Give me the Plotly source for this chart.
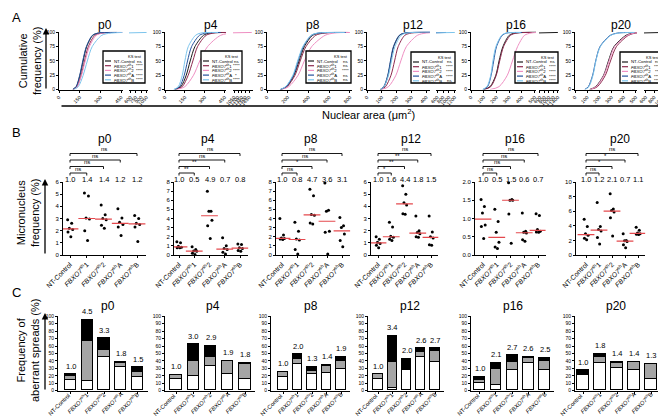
import numpy as np
import plotly.graph_objects as go

W, H = 666, 416
FONT = "Liberation Sans, Arial, sans-serif"

passages = ["p0", "p4", "p8", "p12", "p16", "p20"]
groups = ["NT-Control", "FBXO7sh1", "FBXO7sh2", "FBXO7shA", "FBXO7shB"]
group_ticks = ["NT-Control", "<i>FBXO7</i><sup>sh</sup>1", "<i>FBXO7</i><sup>sh</sup>2",
               "<i>FBXO7</i><sup>sh</sup>A", "<i>FBXO7</i><sup>sh</sup>B"]
group_colors = ["#1a1a1a", "#8e2a4e", "#ee8fc2", "#24519b", "#7cc4ec"]

# ---- A: nuclear area (um2) read at cumulative percent levels
cum_pct = [0, 5, 25, 50, 75, 95, 99, 100]
area_p0 = [[100, 125, 152, 175, 200, 245, 290, 420],
           [105, 130, 160, 185, 212, 260, 310, 450],
           [105, 132, 163, 190, 220, 270, 320, 460],
           [100, 124, 150, 172, 198, 242, 285, 420],
           [110, 140, 175, 205, 240, 310, 380, 1050]]
area_p4 = [[75, 120, 160, 190, 225, 290, 340, 450],
           [80, 130, 175, 210, 245, 310, 370, 460],
           [90, 150, 215, 262, 320, 420, 520, 1750],
           [70, 110, 145, 170, 200, 260, 310, 420],
           [65, 100, 130, 150, 175, 230, 270, 400]]
area_p8 = [[130, 190, 260, 310, 360, 440, 520, 780],
           [135, 195, 270, 320, 375, 470, 560, 790],
           [140, 210, 300, 360, 430, 560, 650, 800],
           [130, 185, 255, 300, 350, 430, 500, 760],
           [125, 180, 250, 295, 345, 425, 490, 750]]
area_p12 = [[90, 115, 142, 160, 180, 220, 260, 420],
            [95, 125, 162, 186, 210, 255, 300, 440],
            [100, 145, 195, 228, 265, 340, 400, 600],
            [90, 113, 140, 158, 178, 218, 255, 900],
            [90, 115, 145, 165, 188, 230, 270, 1200]]
area_p16 = [[100, 150, 195, 220, 250, 300, 350, 1400],
            [105, 155, 198, 225, 255, 310, 360, 480],
            [150, 220, 285, 325, 365, 420, 470, 520],
            [95, 130, 158, 178, 200, 245, 280, 400],
            [90, 125, 155, 172, 195, 240, 275, 390]]
area_p20 = [[120, 170, 235, 275, 320, 420, 480, 1000],
            [130, 185, 250, 292, 340, 440, 500, 560],
            [125, 175, 238, 280, 325, 430, 490, 540],
            [80, 110, 145, 170, 205, 290, 350, 480],
            [85, 115, 148, 172, 208, 295, 360, 490]]
area_data = [area_p0, area_p4, area_p8, area_p12, area_p16, area_p20]
area_ticks = [[0, 150, 300, 450], [0, 150, 300, 450], [0, 200, 400, 600, 800],
              [0, 100, 200, 300, 400], [0, 100, 200, 300, 400, 500], [0, 100, 200, 300, 400, 500]]
break_ticks = [[600, 750, 900, 1050], [1050, 1200, 1350, 1500, 1650], None,
               [600, 800, 1000, 1200], [600, 800, 1000, 1200, 1400], [600, 800, 1000]]
ks_test = [["ns", "****", "****", "****", "****"],
           ["ns", "****", "****", "*", "****"],
           ["ns", "ns", "****", "ns", "ns"],
           ["ns", "****", "****", "****", "ns"],
           ["ns", "****", "****", "****", "****"],
           ["ns", "****", "***", "****", "****"]]

# ---- B: micronucleus frequency (%), one list per group
mn_p0 = [[2.9, 2.6, 2.2, 2.1, 1.9, 1.5], [5.1, 4.85, 3.05, 2.95, 2.0, 1.2],
         [4.1, 3.3, 3.0, 2.9, 2.45, 2.2], [3.8, 3.05, 2.7, 2.5, 2.3, 1.6],
         [3.25, 3.0, 2.6, 2.5, 2.3, 1.1]]
mn_p4 = [[1.45, 1.35, 0.95, 0.85, 0.8, 0.8], [0.9, 0.6, 0.45, 0.4, 0.2, 0.05],
         [7.0, 4.8, 4.8, 3.8, 3.2, 1.8], [1.9, 1.0, 0.7, 0.6, 0.3, 0.1],
         [1.2, 1.15, 0.8, 0.7, 0.5, 0.4]]
mn_p8 = [[4.0, 2.2, 1.85, 1.8, 1.75, 1.7], [3.6, 2.6, 1.75, 1.65, 0.6, 0.1],
         [7.2, 6.5, 4.45, 4.35, 3.5, 3.4], [7.9, 4.9, 4.8, 2.6, 2.5, 0.1],
         [4.1, 3.2, 3.0, 2.3, 1.6, 0.9]]
mn_p12 = [[1.5, 1.3, 1.05, 0.95, 0.8, 0.6], [2.7, 2.3, 1.55, 1.45, 1.3, 1.2],
          [5.7, 5.0, 4.3, 4.1, 3.4, 3.35], [3.2, 2.0, 1.85, 1.75, 1.5, 1.45],
          [3.2, 1.9, 1.5, 1.4, 0.85, 0.8]]
mn_p16 = [[1.52, 1.33, 1.15, 0.82, 0.78, 0.45], [1.25, 0.92, 0.62, 0.35, 0.22, 0.18],
          [1.98, 1.52, 1.5, 1.5, 1.12, 0.32], [1.15, 0.65, 0.62, 0.6, 0.42, 0.38],
          [1.13, 1.08, 0.7, 0.65, 0.63, 0.62]]
mn_p20 = [[4.9, 3.9, 2.9, 2.7, 2.3, 2.1], [7.2, 3.9, 3.5, 3.3, 2.4, 1.5],
          [8.4, 6.3, 6.1, 5.9, 5.1, 2.6], [2.9, 2.0, 1.95, 1.85, 1.4, 1.0],
          [3.8, 3.4, 3.0, 2.9, 2.85, 2.8]]
mn_data = [mn_p0, mn_p4, mn_p8, mn_p12, mn_p16, mn_p20]
mn_fold = [["1.0", "1.4", "1.4", "1.2", "1.2"], ["1.0", "0.5", "4.9", "0.7", "0.8"],
           ["1.0", "0.8", "4.7", "3.6", "3.1"], ["1.0", "1.6", "4.4", "1.8", "1.5"],
           ["1.0", "0.5", "1.5", "0.6", "0.7"], ["1.0", "1.2", "2.1", "0.7", "1.1"]]
# significance of NT-Control vs FBXO7sh1, sh2, shA, shB
mn_sig = [["ns", "ns", "ns", "ns"], ["**", "**", "ns", "ns"], ["ns", "*", "ns", "ns"],
          ["*", "**", "**", "ns"], ["ns", "ns", "ns", "ns"], ["ns", "*", "*", "ns"]]
mn_ymax = [6, 8, 8, 6, 2.0, 10]
mn_dtick = [1, 1, 1, 1, 0.5, 2]

# ---- C: aberrant spreads (%), stacked white / grey / black
ab_white = [[13.5, 12, 45, 32, 18.5], [15, 20, 32.5, 21.5, 15.5], [18, 35, 21.5, 24, 29],
            [16, 3.5, 27, 45, 38.5], [10, 7.5, 27, 37, 27], [20.5, 37, 30, 27.5, 16]]
ab_grey = [[5.5, 54, 9, 5, 6.5], [6, 19.5, 12.5, 18, 19.5], [6.5, 7, 4.5, 9, 10.5],
           [5.5, 34.5, 0, 6.5, 14.5], [3.5, 21.5, 11.5, 7, 12.5], [0, 8, 7, 10.5, 19]]
ab_black = [[2.5, 29, 16, 1.5, 6], [0, 22.5, 15, 0.5, 2], [0, 6.5, 6, 1, 6],
            [0, 35, 15.5, 5, 3.5], [4.5, 8, 8.5, 1, 4.5], [6.5, 4, 1, 0, 1]]
ab_fold = [["1.0", "4.5", "3.3", "1.8", "1.5"], ["1.0", "3.0", "2.9", "1.9", "1.8"],
           ["1.0", "2.0", "1.3", "1.4", "1.9"], ["1.0", "3.4", "2.0", "2.6", "2.7"],
           ["1.0", "2.1", "2.7", "2.6", "2.5"], ["1.0", "1.8", "1.4", "1.4", "1.3"]]


def px(v):
    return v / W


def py(v):
    return 1 - v / H


base_axis = dict(showline=True, linecolor="black", linewidth=1, ticks="outside", ticklen=2,
                 tickwidth=1, tickcolor="black", showgrid=False, zeroline=False, automargin=False,
                 tickfont=dict(size=5, color="black", family=FONT), fixedrange=True)
cat_font = dict(size=6.8, color="black", family=FONT)

fig = go.Figure()
axn = [0]


def add_axes(x0, x1, top, bottom, xopts, yopts):
    axn[0] += 1
    sfx = "" if axn[0] == 1 else str(axn[0])
    xa = dict(base_axis, domain=[px(x0), px(x1)], anchor="y" + sfx)
    xa.update(xopts)
    ya = dict(base_axis, domain=[py(bottom), py(top)], anchor="x" + sfx)
    ya.update(yopts)
    fig.update_layout(**{"xaxis" + sfx: xa, "yaxis" + sfx: ya})
    return "x" + sfx, "y" + sfx


def note(x, y, text, size, xref="paper", yref="paper", **kw):
    d = dict(x=x, y=y, xref=xref, yref=yref, text=text, showarrow=False,
             xanchor="center", yanchor="middle",
             font=dict(size=size, color="black", family=FONT))
    d.update(kw)
    fig.add_annotation(**d)


# ---------------- panel A ----------------
a_main = [(51, 114.5, 460), (157, 218, 460), (259, 344, 820),
          (359, 422, 425), (463, 528, 510), (567, 629, 510)]
a_break = [(121, 140, 560, 1090), (225, 245, 1000, 1800), None,
           (428, 448, 560, 1240), (531, 551, 560, 1450), (636, 657, 560, 1050)]
a_title_x = [97, 203, 305, 405, 508, 613]
ks_box = [(95, 43, 137, 75), (193, 43, 234, 75), (298, 43, 343, 75),
          (403, 44, 447, 75), (507, 44, 550, 75), (612, 44, 655, 75)]
a_top, a_bot = 23.6, 81.5

for i in range(6):
    x0, x1, xmax = a_main[i]
    xr, yr = add_axes(x0, x1, a_top, a_bot,
                      dict(range=[0, xmax], tickvals=area_ticks[i], tickangle=-45),
                      dict(range=[0, 101.5], tickvals=[0, 25, 50, 75, 100]))
    for g in range(5):
        fig.add_trace(go.Scatter(x=area_data[i][g], y=cum_pct, xaxis=xr, yaxis=yr, mode="lines",
                                 line=dict(color=group_colors[g], width=1, shape="spline", smoothing=0.8),
                                 showlegend=False, hoverinfo="skip"))
    if a_break[i] is not None:
        b0, b1, r0, r1 = a_break[i]
        xb, yb = add_axes(b0, b1, a_top, a_bot,
                          dict(range=[r0, r1], tickvals=break_ticks[i], tickangle=-45),
                          dict(range=[0, 101.5], visible=False))
        for g in range(5):
            fig.add_trace(go.Scatter(x=area_data[i][g], y=cum_pct, xaxis=xb, yaxis=yb, mode="lines",
                                     line=dict(color=group_colors[g], width=1),
                                     showlegend=False, hoverinfo="skip"))
    note(px(a_title_x[i]), py(17), passages[i], 12)

    bx0, by0, bx1, by1 = ks_box[i]
    fig.add_shape(type="rect", xref="paper", yref="paper", x0=px(bx0), x1=px(bx1),
                  y0=py(by1), y1=py(by0), line=dict(color="black", width=1.3),
                  fillcolor="white", layer="above")
    note(px(bx1 - 1), py(by0 + 0.8), "KS test", 4, xanchor="right", yanchor="top")
    for g in range(5):
        ry = by0 + 10 + g * 4.7
        fig.add_shape(type="line", xref="paper", yref="paper", x0=px(bx0 + 2), x1=px(bx0 + 8),
                      y0=py(ry), y1=py(ry), line=dict(color=group_colors[g], width=1.2), layer="above")
        note(px(bx0 + 8.5), py(ry), group_ticks[g], 4.3, xanchor="left")
        note(px(bx1 - 6), py(ry), ks_test[i][g], 4.3)

note(px(8), py(9), "A", 13)
note(px(22), py(53), "Cumulative<br>frequency (%)", 11, textangle=-90)
fig.add_annotation(x=px(38), y=py(20), xref="paper", yref="paper", ax=0, ay=62, text="",
                   showarrow=True, arrowhead=2, arrowsize=1, arrowwidth=1.3, arrowcolor="black")
fig.add_annotation(x=px(662), y=py(98), xref="paper", yref="paper", ax=-610, ay=0, text="",
                   showarrow=True, arrowhead=2, arrowsize=1, arrowwidth=1.5, arrowcolor="black")
note(px(360), py(106), "Nuclear area (\u03bcm<sup>2</sup>)", 11)

# ---------------- panel B ----------------
b_geo = [(55, 62, 129), (166, 171, 232), (268, 274, 334),
         (363, 370, 423), (467, 475, 530), (568, 578, 630)]
b_title_x = [97, 200, 303, 403, 507, 612]
b_top, b_bot = 174, 247
jitter = [-0.14, 0.1, -0.04, 0.16, -0.12, 0.05]
bracket_y = [165, 158.5, 152, 145.5]

for i in range(6):
    ax_x, nt_x, b_x = b_geo[i]
    u = (b_x - nt_x) / 4
    lo = -(nt_x - ax_x) / u
    hi = 4.55
    xr, yr = add_axes(ax_x, ax_x + (hi - lo) * u, b_top, b_bot,
                      dict(range=[lo, hi], tickvals=list(range(5)), ticktext=group_ticks,
                           tickangle=-45, tickfont=cat_font),
                      dict(range=[0, mn_ymax[i]], dtick=mn_dtick[i],
                           tickformat=".1f" if mn_dtick[i] < 1 else "d",
                           tickfont=dict(size=6, color="black", family=FONT)))
    for g in range(5):
        vals = mn_data[i][g]
        fig.add_trace(go.Scatter(x=[g + jitter[k % 6] for k in range(len(vals))], y=vals,
                                 xaxis=xr, yaxis=yr, mode="markers",
                                 marker=dict(color="black", size=3), showlegend=False, hoverinfo="skip"))
    fig.add_trace(go.Scatter(x=list(range(5)), y=[np.median(v) for v in mn_data[i]], xaxis=xr, yaxis=yr,
                             mode="markers", marker=dict(symbol="line-ew", size=12,
                                                         line=dict(color="#e4484d", width=1.2)),
                             showlegend=False, hoverinfo="skip"))
    for g in range(5):
        note(g, py(171), mn_fold[i][g], 7.5, xref=xr)
    for k in range(4):
        by = bracket_y[k]
        fig.add_shape(type="path", xref=xr, yref="paper",
                      path=f"M 0,{py(by + 2.5)} L 0,{py(by)} L {k + 1},{py(by)} L {k + 1},{py(by + 2.5)}",
                      line=dict(color="black", width=0.9))
        note((k + 1) / 2, py(by - 0.3), mn_sig[i][k], 6, xref=xr, yanchor="bottom", borderpad=0)
    note(px(b_title_x[i]), py(131.5), passages[i], 12)

note(px(8), py(125), "B", 13)
note(px(20), py(205), "Micronucleus<br>frequency (%)", 11, textangle=-90)
fig.add_annotation(x=px(37), y=py(171), xref="paper", yref="paper", ax=0, ay=76, text="",
                   showarrow=True, arrowhead=2, arrowsize=1, arrowwidth=1.3, arrowcolor="black")

# ---------------- panel C ----------------
c_geo = [(50, 62.5, 129.5), (157, 168, 237), (263, 275, 333),
         (360, 370, 427), (463, 471.7, 536.7), (567, 575, 643)]
c_title_x = [100, 205, 303, 402, 505, 608]
c_top, c_bot = 308.3, 382.7
c_label_size = 5.8

for i in range(6):
    ax_x, nt_x, b_x = c_geo[i]
    u = (b_x - nt_x) / 4
    lo = -(nt_x - ax_x) / u
    hi = 4.6
    xr, yr = add_axes(ax_x, ax_x + (hi - lo) * u, c_top, c_bot,
                      dict(range=[lo, hi], tickvals=list(range(5)), showticklabels=False),
                      dict(range=[0, 100], dtick=10))
    for seg, col in ((ab_white[i], "white"), (ab_grey[i], "#a5a5a5"), (ab_black[i], "black")):
        fig.add_trace(go.Bar(x=list(range(5)), y=seg, xaxis=xr, yaxis=yr, width=0.66,
                             marker=dict(color=col, line=dict(color="black", width=1.1)),
                             showlegend=False, hoverinfo="skip"))
    totals = np.array(ab_white[i]) + np.array(ab_grey[i]) + np.array(ab_black[i])
    for g in range(5):
        note(g, totals[g], ab_fold[i][g], 7.5, xref=xr, yref=yr, yanchor="bottom", yshift=2)
        # slanted category label centred so that its end sits just under the tick
        half = 0.53 * c_label_size * len(groups[g]) / 2 * 0.707
        note(g, py(c_bot), group_ticks[g], c_label_size, xref=xr, textangle=-45,
             xshift=-half - 1, yshift=-half - 3, borderpad=0)
    note(px(c_title_x[i]), py(298), passages[i], 12)

note(px(8), py(284), "C", 13)
note(px(20), py(343), "Frequency of<br>aberrant spreads (%)", 11, textangle=-90)
fig.add_annotation(x=px(37), y=py(305), xref="paper", yref="paper", ax=0, ay=78, text="",
                   showarrow=True, arrowhead=2, arrowsize=1, arrowwidth=1.3, arrowcolor="black")

fig.update_layout(width=W, height=H, margin=dict(l=0, r=0, t=0, b=0, autoexpand=False),
                  barmode="stack", bargap=0, plot_bgcolor="white", paper_bgcolor="white",
                  font=dict(family=FONT, color="black"))
fig.write_html("out.html")
